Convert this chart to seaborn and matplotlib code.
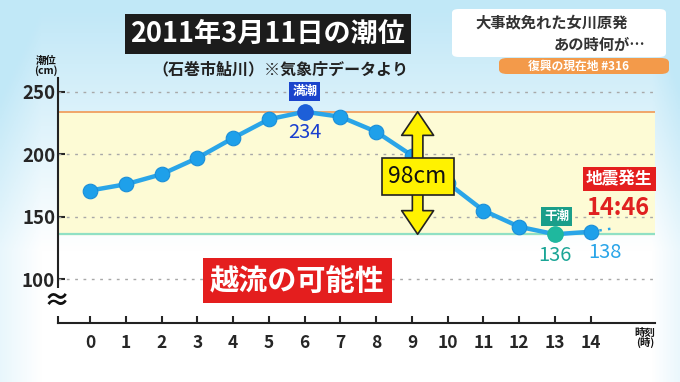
import matplotlib
matplotlib.use("Agg")
import matplotlib.pyplot as plt
import numpy as np
import pandas as pd
import seaborn as sns
from matplotlib.patches import FancyBboxPatch

# data
hours = list(range(15))
tide_cm = [171, 176, 184, 197, 213, 228, 234, 230, 218, 199, 177, 155, 142, 136, 138]
high_hour, high_cm = 6, 234
low_hour, low_cm = 13, 136
ext_hours = [14, 14.7]
ext_cm = [138, 141]
y_ticks = [100, 150, 200, 250]

sns.set_style("white")
plt.rcParams["font.family"] = ["Noto Sans CJK JP", "DejaVu Sans"]
plt.rcParams["font.weight"] = "bold"

fig = plt.figure(figsize=(6.8, 3.82), dpi=100)

# soft blue background
bg = fig.add_axes([0, 0, 1, 1], zorder=-5)
yy = np.linspace(0, 1, 200)[:, None]
xx = np.linspace(0, 1, 300)[None, :]
edge = np.clip(np.maximum(yy * 1.6 - 0.55, 0) + np.maximum(xx - 0.96, 0) * 8 + np.maximum(0.06 - xx, 0) * 6, 0, 1)
c_top = np.array([0.76, 0.91, 0.97])
img = (1 - edge[..., None]) * np.array([1, 1, 1]) + edge[..., None] * c_top
bg.imshow(img, origin="lower", aspect="auto", extent=[0, 1, 0, 1])
bg.axis("off")

ax = fig.add_axes([58 / 680, 59 / 382, (655 - 58) / 680, (304 - 59) / 382])
ax.set_facecolor("none")
ax.set_xlim(-0.9, 15.8)
ax.set_ylim(65, 261)

# band between high and low tide
ax.axhspan(low_cm, high_cm, color="#fdfbd5", zorder=0)
ax.axhline(high_cm, color="#f0a060", lw=1.3, zorder=1)
ax.axhline(low_cm, color="#90e0c4", lw=1.6, zorder=1)
for v in y_ticks:
    ax.axhline(v, color="#a8a8a8", lw=1, ls=(0, (2, 4)), zorder=1)

df = pd.DataFrame({"hour": hours, "tide": tide_cm})
sns.lineplot(data=df, x="hour", y="tide", color="#2aa5e8", lw=3.2, marker="o",
             markersize=10.5, markerfacecolor="#1ea0ea", markeredgecolor="#1a8ed8",
             markeredgewidth=0.8, ax=ax, zorder=4)
ax.plot(ext_hours, ext_cm, color="#2aa5e8", lw=1.8, ls=(0, (1, 2.5)), zorder=3)
ax.scatter([high_hour], [high_cm], s=120, color="#1d5fd8", zorder=5)
ax.scatter([low_hour], [low_cm], s=120, color="#1fb89e", zorder=5)

# axes styling
sns.despine(ax=ax, top=True, right=True)
ax.spines["left"].set_linewidth(1.5)
ax.spines["bottom"].set_linewidth(1.5)
ax.spines["left"].set_color("#222222")
ax.spines["bottom"].set_color("#222222")
ax.set_xticks(hours)
ax.set_yticks(y_ticks)
ax.tick_params(axis="x", direction="in", length=5, width=1.5, labelsize=12.5, pad=8)
ax.tick_params(axis="y", direction="in", length=5, width=1.5, labelsize=13.5, pad=2)
ax.tick_params(left=True, bottom=True)
ax.set_xlabel("")
ax.set_ylabel("")
ax.text(-0.95, 82, "≈", fontsize=19, ha="center", va="center", color="#111111",
        bbox=dict(boxstyle="square,pad=0.02", fc="white", ec="none"), zorder=6)

# annotations
ax.text(high_hour, 250, "満潮", fontsize=9, color="white", ha="center", va="center",
        bbox=dict(boxstyle="square,pad=0.25", fc="#1a44cc", ec="none"), zorder=6)
ax.text(high_hour, 217, str(high_cm), fontsize=14.5, color="#1a3fcf", ha="center", va="center",
        fontweight="normal", zorder=6)
ax.text(low_hour + 0.05, 150, "干潮", fontsize=9, color="white", ha="center", va="center",
        bbox=dict(boxstyle="square,pad=0.25", fc="#1a9e8a", ec="none"), zorder=6)
ax.text(low_hour, 119, str(low_cm), fontsize=14.5, color="#1aa596", ha="center", va="center",
        fontweight="normal", zorder=6)
ax.text(14.4, 121, str(tide_cm[-1]), fontsize=14.5, color="#2aa5e8", ha="center", va="center",
        fontweight="normal", zorder=6)
ax.text(14.8, 180, "地震発生", fontsize=12, color="white", ha="center", va="center",
        bbox=dict(boxstyle="square,pad=0.18", fc="#e41e1e", ec="none"), zorder=6)
ax.text(14.75, 157, "14:46", fontsize=17, color="#e02020", ha="center", va="center",
        zorder=6)
ax.text(5.8, 99, "越流の可能性", fontsize=21, color="white", ha="center", va="center",
        bbox=dict(boxstyle="square,pad=0.25", fc="#e41e1e", ec="none"), zorder=6)

# 98cm double arrow
mid = (high_cm + low_cm) / 2
for end in (high_cm, low_cm):
    ax.annotate("", xy=(9.16, end), xytext=(9.16, mid),
                arrowprops=dict(arrowstyle="simple,head_width=1.15,head_length=0.85,tail_width=0.38",
                                mutation_scale=20, fc="#fff200", ec="#222222", lw=1.2,
                                shrinkA=0, shrinkB=0),
                zorder=7)
ax.text(9.16, 182.5, f"{high_cm - low_cm}cm", fontsize=16.5, color="#111111", ha="center",
        va="center", fontweight="normal",
        bbox=dict(boxstyle="square,pad=0.3", fc="#fff200", ec="#222222", lw=1.2), zorder=8)

# axis captions
fig.text(46 / 680, 1 - 66 / 382, "潮位\n(cm)", fontsize=7.5, ha="center", va="center",
         linespacing=0.95, color="#111111")
fig.text(645 / 680, 1 - 338 / 382, "時刻\n(時)", fontsize=7.5, ha="center", va="center",
         linespacing=0.95, color="#111111")

# title block
fig.text(268 / 680, 1 - 34 / 382, "2011年3月11日の潮位", fontsize=19.5, color="white",
         ha="center", va="center",
         bbox=dict(boxstyle="square,pad=0.22", fc="#1c1c1c", ec="none"))
fig.text(280 / 680, 1 - 69 / 382, "（石巻市鮎川）※気象庁データより", fontsize=11.5,
         color="#222222", ha="center", va="center")

# top-right caption box
fig.patches.append(FancyBboxPatch((452 / 680, 1 - 57 / 382), 214 / 680, 48 / 382,
                                  boxstyle="round,pad=0,rounding_size=0.01",
                                  fc="white", ec="none", transform=fig.transFigure, figure=fig))
fig.text(552 / 680, 1 - 22 / 382, "大事故免れた女川原発", fontsize=11, color="#333333",
         ha="center", va="center")
fig.text(645 / 680, 1 - 45 / 382, "あの時何が…", fontsize=11, color="#333333",
         ha="right", va="center")
fig.patches.append(FancyBboxPatch((499 / 680, 1 - 74 / 382), 170 / 680, 16 / 382,
                                  boxstyle="round,pad=0,rounding_size=0.012",
                                  fc="#f39a4a", ec="none", transform=fig.transFigure, figure=fig))
fig.text(578 / 680, 1 - 66 / 382, "復興の現在地 #316", fontsize=8.5, color="white",
         ha="center", va="center")

fig.savefig("out.png", dpi=100)
